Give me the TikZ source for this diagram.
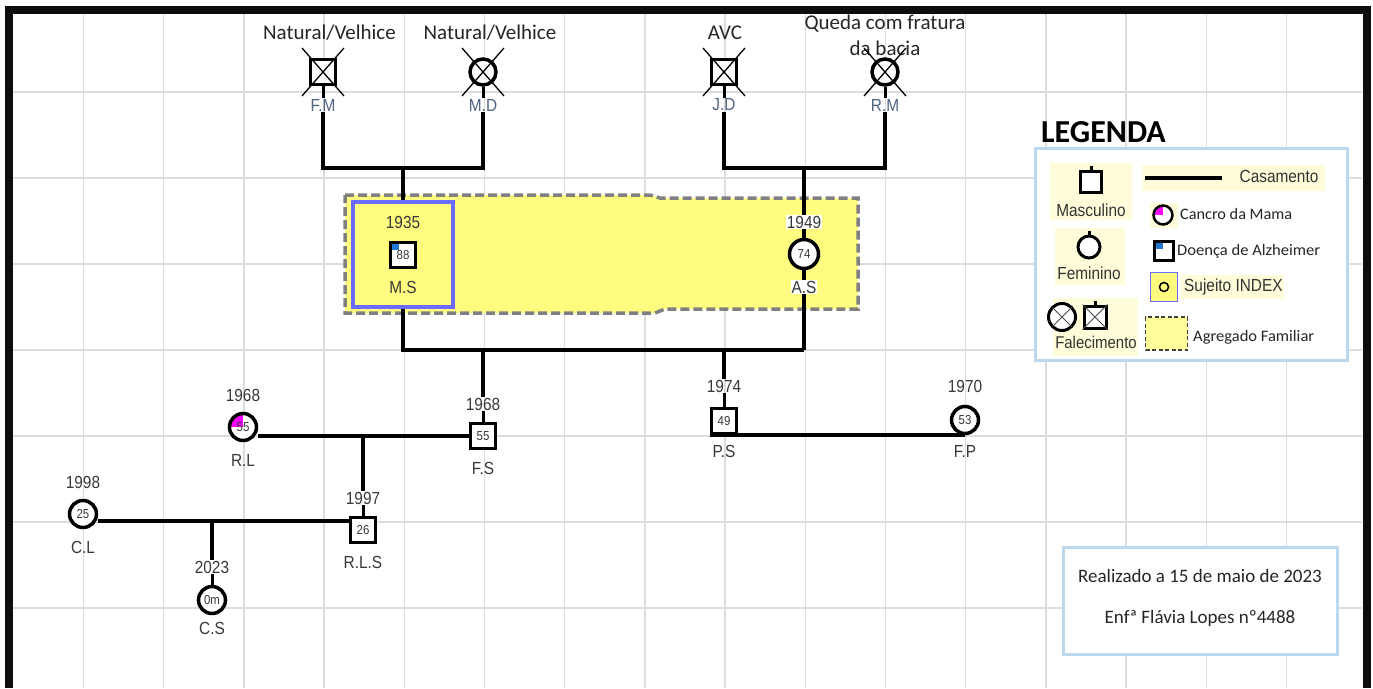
\documentclass[tikz,border=0pt]{standalone}
\usepackage{fontspec}
\setmainfont{Liberation Sans}
\newfontfamily\nar[FakeStretch=0.88]{Liberation Sans}
\newfontfamily\calfont{Carlito}
\usetikzlibrary{calc}
\pgfdeclarelayer{gridlayer}
\pgfdeclarelayer{linelayer}
\pgfsetlayers{gridlayer,linelayer,main}
\definecolor{gridc}{HTML}{DCDCDC}
\definecolor{lblc}{HTML}{383838}
\definecolor{dlblc}{HTML}{4F6382}
\definecolor{famfill}{HTML}{FFFC80}
\definecolor{famdash}{HTML}{808080}
\definecolor{idxc}{HTML}{6B6BFF}
\definecolor{legb}{HTML}{BDD7EE}
\definecolor{legy}{HTML}{FFFDD9}
\definecolor{alz}{HTML}{1E78D2}
\definecolor{pinkc}{HTML}{FF00FF}
\tikzset{
  conn/.style={line width=3.6pt},
  stub/.style={line width=3pt},
  sym/.style={draw, line width=3.5pt, fill=white, inner sep=0pt, font=\nar\fontsize{13}{13}\selectfont, text=lblc},
  msym/.style={sym, rectangle, minimum size=25pt},
  fsym/.style={sym, circle, minimum size=27pt},
  lbl/.style={font=\nar\fontsize{17.5}{18}\selectfont, text=lblc, inner sep=1pt},
  dlbl/.style={lbl, text=dlblc},
  cause/.style={font=\calfont\fontsize{21}{26}\selectfont, text=black!85, align=center, inner sep=0pt},
  alzc/.style={path picture={\fill[alz] (path picture bounding box.north west) rectangle ([xshift=8pt,yshift=-7pt]path picture bounding box.north west);}},
  cancer/.style={path picture={\fill[pinkc] (path picture bounding box.center) rectangle (path picture bounding box.north west);}},
  deadx/.style={line width=1.3pt},
  legtxt/.style={font=\nar\fontsize{17.5}{18}\selectfont, text=black!80, inner sep=0pt},
  legtxtc/.style={font=\calfont\fontsize{16}{18}\selectfont, text=black!85, inner sep=0pt, anchor=west},
  legbg/.style={fill=legy, draw=none},
  infobox/.style={draw=legb, line width=3pt, fill=white},
  notetxt/.style={font=\calfont\fontsize{19}{20}\selectfont, text=black!85},
}
\newcommand\mydeadx[1]{%
  \draw[deadx] ([xshift=-21pt,yshift=24pt]#1.center) -- ([xshift=21pt,yshift=-24pt]#1.center);
  \draw[deadx] ([xshift=21pt,yshift=24pt]#1.center) -- ([xshift=-21pt,yshift=-24pt]#1.center);}
\begin{document}
\begin{tikzpicture}[x=1pt,y=-1pt]
\useasboundingbox (0,0) rectangle (1373,688);

% ---------- grid and household box ----------
\begin{pgfonlayer}{gridlayer}
\fill[white] (0,0) rectangle (1373,688);
\foreach \k in {0,...,15} \draw[gridc, line width=1.5pt] ({83.5+80.2*\k},12) -- ({83.5+80.2*\k},688);
\foreach \k in {0,...,6} \draw[gridc, line width=1.5pt] (12,{92+86*\k}) -- (1362,{92+86*\k});
\filldraw[fill=famfill, draw=famdash, line width=3.5pt, dash pattern=on 9pt off 4pt]
  (345,195) -- (650,195) -- (660,198) -- (858,198) -- (858,309) -- (665,309) -- (655,313) -- (345,313) -- cycle;
\end{pgfonlayer}

% ---------- causes of death ----------
\node[cause] (cFM) at (329.5,33) {Natural/Velhice};
\node[cause] (cMD) at (490,33) {Natural/Velhice};
\node[cause] (cJD) at (725,33) {AVC};
\node[cause] (cRM) at (885,35) {Queda com fratura\\da bacia};

% ---------- grandparents ----------
\node[msym] (FM) at (323,72) {};
\node[fsym, minimum size=26pt] (MD) at (483,72) {};
\node[msym] (JD) at (724,72) {};
\node[fsym, minimum size=26pt] (RM) at (885,72) {};
\node[dlbl] (FMl) at (323,105) {F.M};
\node[dlbl] (MDl) at (483,105) {M.D};
\node[dlbl] (JDl) at (724,105) {J.D};
\node[dlbl] (RMl) at (885,105) {R.M};
\mydeadx{FM}\mydeadx{MD}\mydeadx{JD}\mydeadx{RM}
\draw[stub] (FM.south) -- (FMl.north);
\draw[stub] (MD.south) -- (MDl.north);
\draw[stub] (JD.south) -- (JDl.north);
\draw[stub] (RM.south) -- (RMl.north);

\coordinate (u1) at (403,168);
\coordinate (u2) at (804,168);
\coordinate (p1) at (403,350);
\coordinate (p2) at (804,350);
\coordinate (c1) at (483,350);
\coordinate (c2) at (724,350);
\coordinate (m1) at (363,436);
\coordinate (m2) at (212,521);

% ---------- parents ----------
\node[draw=idxc, line width=3.5pt, fill=famfill, minimum width=100pt, minimum height=105pt, inner sep=0pt] (idx) at (403,254.5) {};
\node[lbl] (MSy) at (403,222) {1935};
\node[msym, alzc] (MS) at (403,255) {88};
\node[lbl] (MSn) at (403,287) {M.S};
\node[lbl, fill=white] (ASy) at (804,222) {1949};
\node[fsym, minimum size=29pt] (AS) at (804,254) {74};
\node[lbl, fill=white] (ASn) at (804,287) {A.S};

% ---------- children generation ----------
\node[lbl] (FSy) at (483,404) {1968};
\node[msym] (FS) at (483,436) {55};
\node[lbl] (FSn) at (483,468) {F.S};
\node[lbl] (RLy) at (243,395) {1968};
\node[fsym, cancer] (RL) at (243,427) {55};
\node[lbl] (RLn) at (243,460) {R.L};
\node[lbl] (PSy) at (724,386) {1974};
\node[msym] (PS) at (724,421) {49};
\node[lbl] (PSn) at (724,451) {P.S};
\node[lbl] (FPy) at (965,386) {1970};
\node[fsym] (FP) at (965,420) {53};
\node[lbl] (FPn) at (965,451) {F.P};
\node[lbl] (RLSy) at (363,498) {1997};
\node[msym] (RLS) at (363,530) {26};
\node[lbl] (RLSn) at (363,562) {R.L.S};
\node[lbl] (CLy) at (83,482) {1998};
\node[fsym] (CL) at (83,514) {25};
\node[lbl] (CLn) at (83,547) {C.L};
\node[lbl] (CSy) at (212,567) {2023};
\node[fsym] (CS) at (212,600) {0m};
\node[lbl] (CSn) at (212,628) {C.S};

% ---------- connectors ----------
\begin{pgfonlayer}{linelayer}
\draw[conn] (FMl.south) |- (u1) -| (MDl.south);
\draw[conn] (JDl.south) |- (u2) -| (RMl.south);
\draw[conn] (u1) -- (idx.north);
\draw[conn] (u2) -- (p2);
\draw[conn] (idx.south) -- (p1) -- (p2);
\draw[conn] (c1) -- (FSy.north);
\draw[conn] (c2) -- (PSy.north);
\draw[stub] (FSy.south) -- (FS.north);
\draw[stub] (PSy.south) -- (PS.north);
\draw[stub] (RLSy.south) -- (RLS.north);
\draw[stub] (CSy.south) -- (CS.north);
\draw[conn] (RL.east |- m1) -- (m1 -| FS.west);
\draw[conn] (m1) -- (RLSy.north);
\draw[conn] (PS.south west) -- (PS.south west -| FP.center);
\draw[conn] (CL.east |- m2) -- (m2 -| RLS.west);
\draw[conn] (m2) -- (CSy.north);
\end{pgfonlayer}

% ---------- legend ----------
\node[font=\calfont\bfseries\fontsize{32}{32}\selectfont, anchor=west, inner sep=0pt] (legt) at (1041,132) {LEGENDA};
\draw[infobox] (1035,148) rectangle (1347,360);
\fill[legbg] (1050,163) rectangle (1132,220);
\fill[legbg] (1055,228) rectangle (1125,285);
\fill[legbg] (1053,298) rectangle (1138,356);
\fill[legbg] (1142,165) rectangle (1325,191);
\fill[legbg] (1150,203) rectangle (1178,228);
\fill[legbg] (1181,275) rectangle (1284,299);
\node[draw, line width=3pt, fill=white, minimum size=21pt, inner sep=0pt] (lM) at (1091,182) {};
\draw[stub] (lM.north) -- ([yshift=4pt]lM.north);
\node[legtxt] (lMt) at (1091,210) {Masculino};
\node[draw, circle, line width=3pt, fill=white, minimum size=22pt, inner sep=0pt] (lF) at (1089,247) {};
\draw[stub] (lF.north) -- ([yshift=4pt]lF.north);
\node[legtxt] (lFt) at (1089,273) {Feminino};
\node[draw, circle, line width=3pt, fill=white, minimum size=27pt, inner sep=0pt] (lDf) at (1062,317) {};
\draw[line width=1pt, black!70] ([xshift=-9.5pt,yshift=9.5pt]lDf.center) -- ([xshift=9.5pt,yshift=-9.5pt]lDf.center);
\draw[line width=1pt, black!70] ([xshift=9.5pt,yshift=9.5pt]lDf.center) -- ([xshift=-9.5pt,yshift=-9.5pt]lDf.center);
\node[draw, line width=3pt, fill=white, minimum size=22pt, inner sep=0pt] (lDm) at (1095,317) {};
\draw[stub] (lDm.north) -- ([yshift=4pt]lDm.north);
\draw[line width=1pt, black!70] (lDm.north west) -- (lDm.south east);
\draw[line width=1pt, black!70] (lDm.north east) -- (lDm.south west);
\node[legtxt, font=\nar\fontsize{17}{18}\selectfont] (lDt) at (1096,342) {Falecimento};
\coordinate (lCa) at (1145,178);
\coordinate (lCb) at (1222,178);
\draw[line width=4pt] (lCa) -- (lCb);
\node[legtxt] (lCt) at (1279,176) {Casamento};
\node[draw, circle, line width=2.5pt, fill=white, minimum size=19pt, inner sep=0pt, cancer] (lK) at (1163,215) {};
\node[legtxtc] (lKt) at (1180,214) {\resizebox{112pt}{\height}{Cancro da Mama}};
\node[draw, line width=2.5pt, fill=white, minimum size=19pt, inner sep=0pt, alzc] (lA) at (1164,251) {};
\node[legtxtc] (lAt) at (1177,251) {\resizebox{143pt}{\height}{Doença de Alzheimer}};
\node[draw=idxc, line width=1.5pt, fill=famfill, minimum width=27pt, minimum height=29pt, inner sep=0pt] (lI) at (1164,287) {};
\node[draw, circle, line width=1.5pt, minimum size=9pt, inner sep=0pt] (lIc) at (1164,287) {};
\node[legtxt, anchor=west] (lIt) at (1184,287) {Sujeito INDEX};
\node[draw=black!75, line width=1.5pt, dash pattern=on 4pt off 2.5pt, fill=famfill!80!white, minimum width=42pt, minimum height=33pt, inner sep=0pt] (lG) at (1166.5,333.5) {};
\node[legtxtc] (lGt) at (1193,337) {\resizebox{121pt}{\height}{Agregado Familiar}};

% ---------- note ----------
\node[infobox, minimum width=274pt, minimum height=107pt, inner sep=0pt] (note) at (1200,601) {};
\node[notetxt] (n1) at (1200,576) {Realizado a 15 de maio de 2023};
\node[notetxt] (n2) at (1200,618) {Enfª Flávia Lopes nº4488};

% ---------- frame ----------
\draw[line width=8pt, black!95] (8.5,688) -- (8.5,9.5) -- (1366.5,9.5) -- (1366.5,688);
\end{tikzpicture}
\end{document}
